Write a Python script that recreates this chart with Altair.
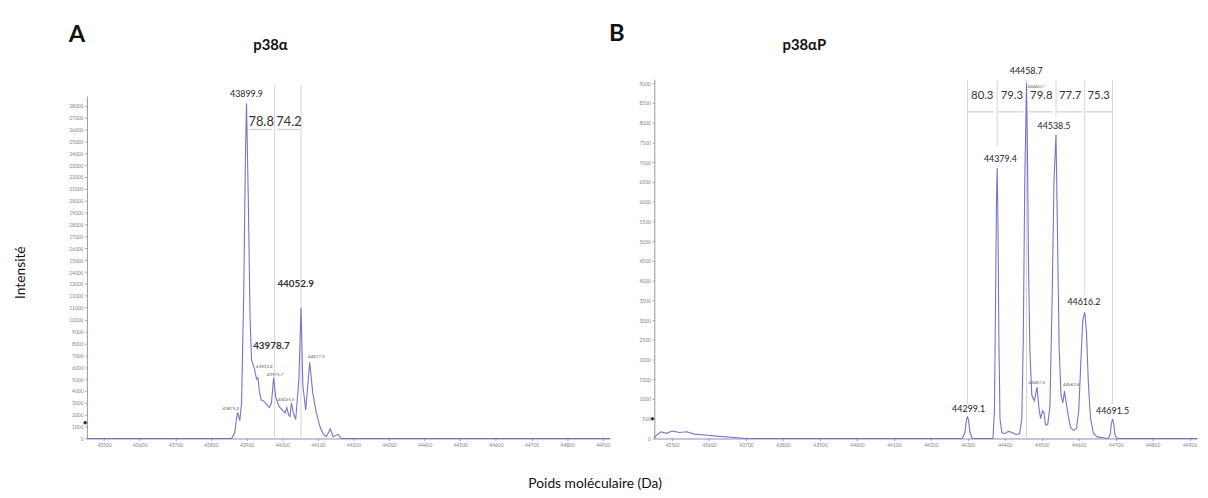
import altair as alt
import pandas as pd

FONT = "Lato"
CURVE = "#7474c8"
XTICKS = list(range(43500, 44901, 100))
XDOM = [43452, 44920]

# ---------------- Panel A : p38alpha ----------------
a_mass = [43452, 43858, 43867, 43872, 43875, 43881, 43886, 43892, 43897, 43899.9,
          43905, 43910, 43914, 43922, 43928, 43932, 43936, 43941, 43950, 43958,
          43964, 43970, 43976, 43982, 43991, 44000, 44008, 44013, 44018, 44022,
          44026, 44031, 44038, 44047, 44052.9, 44058, 44066, 44072, 44077.3, 44086,
          44096, 44107, 44116, 44124, 44135, 44143, 44157, 44166, 44920]
a_int = [0, 0, 500, 1700, 2200, 1500, 3000, 12000, 24000, 28200,
         20000, 10000, 6600, 5900, 5000, 5100, 4000, 3250, 3100, 2800,
         2600, 3000, 5100, 3500, 2700, 2400, 2150, 2600, 2000, 1850,
         3000, 2200, 1600, 5000, 11000, 4500, 2400, 4500, 6400, 3800,
         2150, 900, 350, 150, 800, 150, 350, 0, 0]

a_lab_text = ["43899.9"]
a_lab_mass = [43899.9]
a_lab_int = [29000]

a_bold_text = ["44052.9", "43978.7"]
a_bold_mass = [44038, 43970]
a_bold_int = [13000, 7800]

a_small_text = ["43875.2", "43931.4", "43975.7", "44025.5", "44077.3"]
a_small_mass = [43856, 43950, 43980, 44011, 44096]
a_small_int = [2500, 6000, 5330, 3250, 6830]

a_vline_mass = [43978.7, 44052.9]
a_vline_top = [29700, 29700]
a_vline_bottom = [0, 0]

a_delta_text = ["78.8", "74.2"]
a_delta_mass = [43941, 44019]
a_delta_int = [26600, 26600]
a_seg_start = [43908, 43986]
a_seg_end = [43972, 44050]
a_seg_int = [26000, 26000]

a_marker_mass = [43447]
a_marker_int = [1330]

# ---------------- Panel B : p38alphaP ----------------
b_mass = [43452, 43455, 43470, 43485, 43500, 43520, 43540, 43560, 43590, 43620,
          43660, 43700, 44285, 44292, 44296, 44299.1, 44302, 44306, 44312, 44368,
          44372, 44375, 44377.5, 44379.4, 44381.5, 44384, 44387, 44392, 44400, 44410,
          44420, 44430, 44440, 44446, 44450, 44454, 44458.7, 44461, 44464, 44468,
          44473, 44480, 44487.3, 44492, 44497, 44502, 44506, 44510, 44516, 44522,
          44528, 44533, 44538.5, 44542, 44547, 44552, 44557, 44561.6, 44566, 44572,
          44578, 44586, 44594, 44600, 44606, 44611, 44616.2, 44621, 44626, 44632,
          44640, 44650, 44680, 44685, 44688, 44691.5, 44695, 44698, 44703, 44920]
b_int = [0, 60, 170, 130, 190, 150, 170, 110, 90, 60,
         30, 0, 0, 150, 450, 560, 450, 150, 0, 0,
         700, 3500, 6000, 6850, 5500, 2500, 500, 150, 120, 180,
         150, 100, 120, 500, 2500, 6500, 9000, 7500, 4500, 2200,
         1100, 950, 1300, 800, 500, 700, 650, 350, 350, 800,
         3500, 6500, 7700, 5500, 2300, 1100, 900, 1200, 900, 560,
         280, 200, 260, 700, 2000, 3000, 3200, 2700, 1400, 500,
         120, 40, 0, 100, 350, 500, 350, 100, 0, 0]

b_lab_text = ["44458.7", "44379.4", "44538.5", "44616.2", "44299.1", "44691.5"]
b_lab_mass = [44458, 44388, 44533, 44614, 44302, 44691.5]
b_lab_int = [9300, 7075, 7925, 3450, 750, 700]

b_small_text = ["44460.7", "44487.3", "44561.6"]
b_small_mass = [44484, 44486, 44580]
b_small_int = [8900, 1400, 1350]

b_vline_mass = [44299.1, 44379.4, 44458.7, 44538.5, 44616.2, 44691.5]
b_vline_top = [9075, 9075, 9075, 9075, 9075, 9075]
b_vline_bottom = [875, 7400, 0, 8150, 3650, 875]

b_delta_text = ["80.3", "79.3", "79.8", "77.7", "75.3"]
b_delta_mass = [44339, 44419, 44498.6, 44577, 44654]
b_delta_int = [8675, 8675, 8675, 8675, 8675]
b_seg_start = [44301, 44382, 44463, 44541, 44620]
b_seg_end = [44372, 44450, 44531, 44612, 44691.5]
b_seg_int = [8275, 8275, 8275, 8275, 8275]

b_marker_mass = [43447]
b_marker_int = [500]


def panel(width, height, ydom, yrange, yticks, curve_m, curve_v,
          labs, bolds, smalls, vl, deltas, segs, marker, delta_size, annots):
    x_enc = alt.X("m:Q", scale=alt.Scale(domain=XDOM, nice=False, zero=False),
                  axis=alt.Axis(values=XTICKS, format="d", title=None, labelFontSize=5,
                                labelColor="#888", tickSize=2, labelPadding=2,
                                domainColor="#8a8ab8", tickColor="#999", grid=False,
                                labelFont=FONT))
    y_enc = alt.Y("v:Q", scale=alt.Scale(domain=ydom, range=yrange, nice=False, zero=True),
                  axis=alt.Axis(values=yticks, format="d", title=None, labelFontSize=5,
                                labelColor="#888", tickSize=2, labelPadding=2,
                                domainColor="#999", tickColor="#999", grid=False,
                                labelFont=FONT))
    layers = []
    vdf = pd.DataFrame({"m": vl[0], "v": vl[1], "v2": vl[2]})
    layers.append(alt.Chart(vdf).mark_rule(color="#d4d4dc", strokeWidth=1).encode(
        x=x_enc, y=y_enc, y2="v2:Q"))
    sdf = pd.DataFrame({"m": segs[0], "m2": segs[1], "v": segs[2]})
    layers.append(alt.Chart(sdf).mark_rule(color="#c0c6de", strokeWidth=1).encode(
        x=x_enc, x2="m2:Q", y=y_enc))
    cdf = pd.DataFrame({"m": curve_m, "v": curve_v})
    layers.append(alt.Chart(cdf).mark_line(color=CURVE, strokeWidth=1.1).encode(
        x=x_enc, y=y_enc))
    ldf = pd.DataFrame({"m": labs[1], "v": labs[2], "t": labs[0]})
    layers.append(alt.Chart(ldf).mark_text(font=FONT, fontSize=9, color="#222").encode(
        x=x_enc, y=y_enc, text="t:N"))
    if bolds is not None:
        bdf = pd.DataFrame({"m": bolds[1], "v": bolds[2], "t": bolds[0]})
        layers.append(alt.Chart(bdf).mark_text(font=FONT, fontSize=10, fontWeight="bold",
                                               color="#333").encode(
            x=x_enc, y=y_enc, text="t:N"))
    smdf = pd.DataFrame({"m": smalls[1], "v": smalls[2], "t": smalls[0]})
    layers.append(alt.Chart(smdf).mark_text(font=FONT, fontSize=4.5, color="#555").encode(
        x=x_enc, y=y_enc, text="t:N"))
    ddf = pd.DataFrame({"m": deltas[1], "v": deltas[2], "t": deltas[0]})
    layers.append(alt.Chart(ddf).mark_text(font=FONT, fontSize=delta_size, color="#333").encode(
        x=x_enc, y=y_enc, text="t:N"))
    mdf = pd.DataFrame({"m": marker[0], "v": marker[1]})
    layers.append(alt.Chart(mdf).mark_point(shape="diamond", filled=True, size=18,
                                            color="#1f2a5a", opacity=1).encode(
        x=x_enc, y=y_enc))
    for (txt, px, py, size, weight, angle) in annots:
        adf = pd.DataFrame({"t": [txt]})
        kw = dict(font=FONT, fontSize=size, color="#111", fontWeight=weight)
        if angle:
            kw["angle"] = angle
        layers.append(alt.Chart(adf).mark_text(**kw).encode(
            x=alt.value(px), y=alt.value(py), text="t:N"))
    return alt.layer(*layers).properties(width=width, height=height)


chart_a = panel(
    530, 364, [0, 28800], [364, 17], list(range(0, 28001, 1000)), a_mass, a_int,
    (a_lab_text, a_lab_mass, a_lab_int),
    (a_bold_text, a_bold_mass, a_bold_int),
    (a_small_text, a_small_mass, a_small_int),
    (a_vline_mass, a_vline_top, a_vline_bottom),
    (a_delta_text, a_delta_mass, a_delta_int),
    (a_seg_start, a_seg_end, a_seg_int),
    (a_marker_mass, a_marker_int), 13,
    [("A", -10, -45, 24, "bold", 0),
     ("p38α", 186, -35, 15, "bold", 0),
     ("Intensité", -67, 196, 14, "normal", 270)])

chart_b = panel(
    550, 364, [0, 9100], [364, 0], list(range(0, 9001, 500)), b_mass, b_int,
    (b_lab_text, b_lab_mass, b_lab_int),
    None,
    (b_small_text, b_small_mass, b_small_int),
    (b_vline_mass, b_vline_top, b_vline_bottom),
    (b_delta_text, b_delta_mass, b_delta_int),
    (b_seg_start, b_seg_end, b_seg_int),
    (b_marker_mass, b_marker_int), 11.5,
    [("B", -38, -46, 24, "bold", 0),
     ("p38αP", 152, -35, 15, "bold", 0),
     ("Poids moléculaire (Da)", -60, 410, 14, "normal", 0)])

chart = alt.hconcat(chart_a, chart_b, spacing=45, bounds="flush").properties(
    padding={"left": 6, "top": 11, "right": 0, "bottom": 0}
).configure_view(stroke=None, strokeWidth=0)

chart.save("out.html", embed_options={"renderer": "svg", "actions": False})
